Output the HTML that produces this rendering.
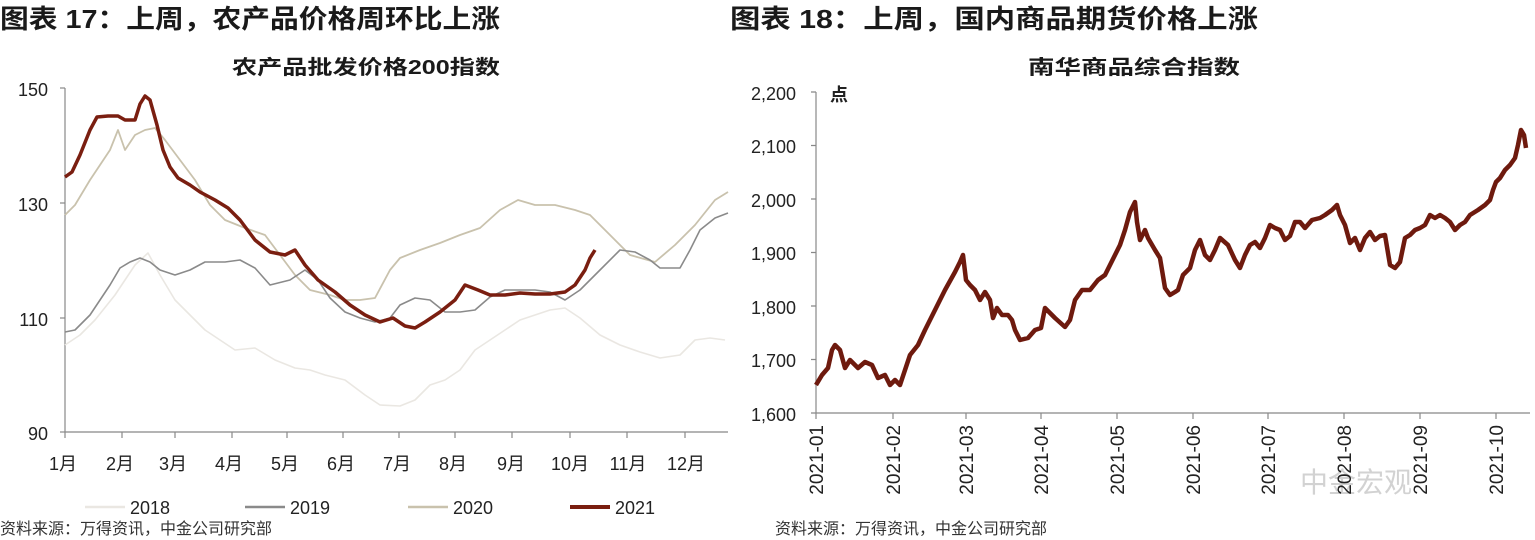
<!DOCTYPE html>
<html><head><meta charset="utf-8"><style>
html,body{margin:0;padding:0;background:#fff;}
svg{display:block;font-family:"Liberation Sans","Noto Sans CJK SC",sans-serif;}
</style></head><body>
<svg width="1535" height="540" viewBox="0 0 1535 540" xmlns="http://www.w3.org/2000/svg">
<g font-weight="bold" fill="#1a1a1a">
<text x="0" y="28" font-size="26" textLength="500" lengthAdjust="spacingAndGlyphs">图表 17：上周，农产品价格周环比上涨</text>
<text x="730" y="28" font-size="26" textLength="528" lengthAdjust="spacingAndGlyphs">图表 18：上周，国内商品期货价格上涨</text>
<text x="232" y="74" font-size="20" textLength="268" lengthAdjust="spacingAndGlyphs">农产品批发价格200指数</text>
<text x="1028" y="74" font-size="20" textLength="212" lengthAdjust="spacingAndGlyphs">南华商品综合指数</text>
</g>
<!-- left axes -->
<g stroke="#888" stroke-width="1.2" fill="none">
<line x1="65" y1="88" x2="65" y2="432"/>
<line x1="65" y1="432" x2="728" y2="432"/>
<line x1="60" y1="88" x2="65" y2="88"/><line x1="60" y1="203" x2="65" y2="203"/><line x1="60" y1="318" x2="65" y2="318"/><line x1="60" y1="432" x2="65" y2="432"/>
<path d="M65 432v6M122 432v6M175 432v6M232 432v6M287 432v6M343 432v6M399 432v6M455 432v6M512 432v6M570 432v6M627 432v6M685 432v6"/>
</g>
<g font-size="18" fill="#222" text-anchor="end">
<text x="48" y="96">150</text><text x="48" y="211">130</text><text x="48" y="326">110</text><text x="48" y="440">90</text>
</g>
<g font-size="18" fill="#222" text-anchor="middle">
<text x="63" y="470">1月</text><text x="120" y="470">2月</text><text x="173" y="470">3月</text><text x="229" y="470">4月</text><text x="285" y="470">5月</text><text x="341" y="470">6月</text><text x="397" y="470">7月</text><text x="453" y="470">8月</text><text x="511" y="470">9月</text><text x="570" y="470">10月</text><text x="628" y="470">11月</text><text x="686" y="470">12月</text>
</g>
<g fill="none" stroke-linejoin="round">
<polyline stroke="#eae7e2" stroke-width="1.6" points="65,345 80,335 95,320 115,295 135,265 148,253 160,275 175,300 190,315 205,330 220,340 235,350 255,348 275,360 295,368 310,370 325,375 345,380 365,395 380,405 400,406 415,400 430,385 445,380 460,370 475,350 490,340 505,330 520,320 535,315 550,310 565,308 580,318 600,335 620,345 640,352 660,358 680,355 695,340 710,338 725,340"/>
<polyline stroke="#c9c2ad" stroke-width="1.8" points="65,215 75,205 90,180 100,165 110,150 118,130 125,150 135,135 145,130 155,128 165,140 180,160 195,180 210,205 225,220 245,228 265,235 280,255 295,275 310,290 330,295 345,300 360,300 375,298 390,270 400,258 420,250 440,243 460,235 480,228 500,210 518,200 535,205 555,205 575,210 590,215 610,235 630,255 655,262 675,245 695,225 715,200 728,192"/>
<polyline stroke="#8a8a8a" stroke-width="1.6" points="65,332 75,330 90,315 100,300 110,285 120,268 130,262 140,258 150,262 160,270 175,275 190,270 205,262 225,262 240,260 255,268 270,285 290,280 305,270 318,280 330,298 345,312 360,318 375,322 390,318 400,305 415,298 430,300 445,312 460,312 475,310 490,297 505,290 520,290 535,290 550,292 565,300 580,290 600,270 620,250 635,252 650,260 660,268 680,268 690,250 700,230 715,218 728,213"/>
<polyline stroke="#7a1e10" stroke-width="3.5" points="65,177 72,172 80,155 90,130 97,117 108,116 118,116 125,120 135,120 140,104 145,96 150,100 157,125 163,150 170,167 178,178 190,185 200,192 215,200 228,208 240,220 255,240 270,252 285,255 295,250 305,265 318,280 335,292 350,305 365,315 380,322 393,318 405,326 415,328 425,322 440,312 455,300 465,285 478,290 490,295 505,295 520,293 535,294 550,294 565,292 575,285 585,270 590,258 595,250"/>
</g>
<!-- left legend -->
<g stroke-width="2.5">
<line x1="85" y1="507" x2="125" y2="507" stroke="#eae7e2"/>
<line x1="245" y1="507" x2="285" y2="507" stroke="#8a8a8a"/>
<line x1="408" y1="507" x2="448" y2="507" stroke="#c9c2ad"/>
<line x1="570" y1="507" x2="610" y2="507" stroke="#7a1e10" stroke-width="4"/>
</g>
<g font-size="18" fill="#222">
<text x="130" y="514">2018</text><text x="290" y="514">2019</text><text x="453" y="514">2020</text><text x="615" y="514">2021</text>
<text x="0" y="534" font-size="16" fill="#333">资料来源：万得资讯，中金公司研究部</text>
<text x="775" y="534" font-size="16" fill="#333">资料来源：万得资讯，中金公司研究部</text>
</g>
<!-- right axes -->
<g stroke="#888" stroke-width="1.2" fill="none">
<line x1="816" y1="92" x2="816" y2="413"/>
<line x1="816" y1="413" x2="1530" y2="413"/>
<path d="M811 92h5M811 145.5h5M811 199h5M811 252.5h5M811 306h5M811 359.5h5M811 413h5"/>
<path d="M816 413v6M893 413v6M966 413v6M1041 413v6M1117 413v6M1193 413v6M1268 413v6M1344 413v6M1420 413v6M1496 413v6"/>
</g>
<g font-size="18" fill="#222" text-anchor="end">
<text x="796" y="100">2,200</text><text x="796" y="153">2,100</text><text x="796" y="207">2,000</text><text x="796" y="260">1,900</text><text x="796" y="314">1,800</text><text x="796" y="367">1,700</text><text x="796" y="421">1,600</text>
</g>
<text x="830" y="101" font-size="18" font-weight="bold" fill="#222">点</text>
<text x="1300" y="492" font-size="28" fill="#c8c8c8" opacity="0.8">中金宏观</text>
<g font-size="19" fill="#222" text-anchor="end">
<text transform="translate(823,425) rotate(-90)">2021-01</text>
<text transform="translate(900,425) rotate(-90)">2021-02</text>
<text transform="translate(973,425) rotate(-90)">2021-03</text>
<text transform="translate(1048,425) rotate(-90)">2021-04</text>
<text transform="translate(1124,425) rotate(-90)">2021-05</text>
<text transform="translate(1200,425) rotate(-90)">2021-06</text>
<text transform="translate(1275,425) rotate(-90)">2021-07</text>
<text transform="translate(1351,425) rotate(-90)">2021-08</text>
<text transform="translate(1427,425) rotate(-90)">2021-09</text>
<text transform="translate(1503,425) rotate(-90)">2021-10</text>
</g>
<polyline fill="none" stroke="#6e1a0e" stroke-width="4.5" stroke-linejoin="round" points="816,385 822,375 828,368 832,350 835,345 840,350 845,368 850,360 858,368 865,362 872,365 878,378 885,375 890,385 895,380 900,385 905,370 910,355 918,345 925,330 935,310 945,290 955,272 960,262 963,255 966,280 970,285 975,290 980,300 985,292 990,300 993,318 997,308 1002,315 1008,315 1012,320 1015,330 1020,340 1028,338 1035,330 1041,328 1045,308 1055,318 1065,327 1070,320 1075,300 1082,290 1090,290 1098,280 1105,275 1110,265 1115,255 1120,245 1125,230 1130,212 1135,202 1137,222 1140,240 1145,230 1148,238 1155,250 1160,258 1165,288 1170,295 1175,292 1178,290 1183,275 1190,268 1195,250 1200,240 1205,255 1210,260 1215,250 1220,238 1228,245 1235,260 1240,268 1245,255 1250,245 1255,242 1260,248 1265,238 1270,225 1275,228 1280,230 1285,240 1290,236 1295,222 1300,222 1305,228 1312,220 1320,218 1325,215 1332,210 1337,205 1340,215 1345,225 1350,243 1355,238 1360,250 1365,238 1370,232 1375,240 1380,236 1385,235 1390,265 1395,268 1400,262 1405,238 1410,235 1415,230 1420,228 1425,225 1430,215 1435,218 1440,215 1445,218 1450,222 1455,230 1460,225 1465,222 1470,215 1478,210 1485,205 1490,200 1493,190 1496,182 1500,178 1505,170 1510,165 1515,158 1518,145 1521,130 1524,135 1526,148"/>
</svg>
</body></html>
